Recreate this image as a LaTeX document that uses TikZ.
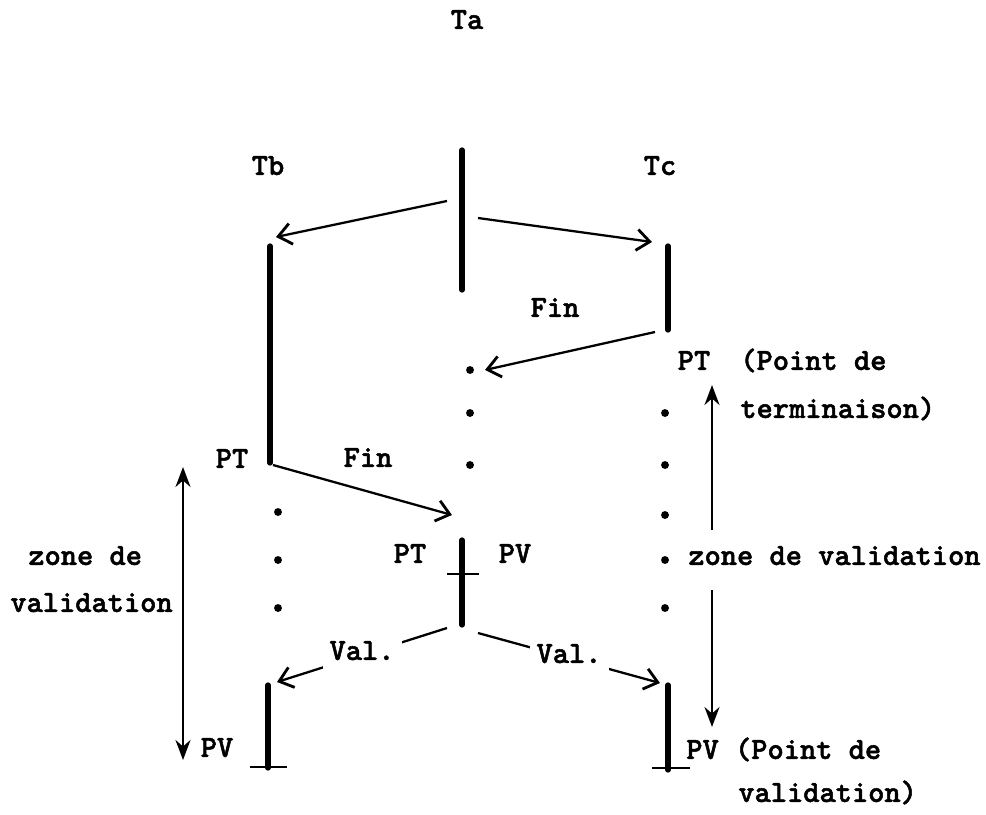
\documentclass[tikz,border=0pt]{standalone}
\usepackage{fontspec}
\newfontfamily\twfont{lmmonolt10-bold.otf}[FakeBold=1.6]
\usetikzlibrary{arrows.meta}
\begin{document}
\begin{tikzpicture}[x=0.02cm,y=-0.02cm,
  lbl/.style={font=\twfont\fontsize{17.6}{20}\selectfont, inner sep=0pt, text height=1.6ex, text depth=0.3ex},
  bar/.style={line width=3pt, line cap=round},
  tick/.style={line width=1pt},
  conn/.style={line width=1.3pt, -{Straight Barb[length=2.6mm,width=4.2mm,line width=1.6pt]}},
  zone/.style={line width=1.3pt, -{Stealth[length=4mm,width=3mm]}},
  dot/.style={circle, fill, inner sep=0pt, minimum size=4.5pt}]
\useasboundingbox (0,0) rectangle (986,814);
% bars
\coordinate (aT) at (462,150); \coordinate (aB) at (462,290);
\coordinate (bT) at (270,246); \coordinate (bB) at (270,463);
\coordinate (cT) at (668,246); \coordinate (cB) at (668,330);
\coordinate (mT) at (462,540); \coordinate (mB) at (462,625);
\coordinate (lT) at (268,685); \coordinate (lB) at (268,768);
\coordinate (rT) at (668,685); \coordinate (rB) at (668,770);
\draw[bar] (aT) -- (aB);
\draw[bar] (bT) -- (bB);
\draw[bar] (cT) -- (cB);
\draw[bar] (mT) -- (mB);
\draw[bar] (lT) -- (lB);
\draw[bar] (rT) -- (rB);
% crossbars
\coordinate (mx1) at (447,574); \coordinate (mx2) at (479,574);
\coordinate (lx1) at (250,767); \coordinate (lx2) at (287,767);
\coordinate (rx1) at (652,768); \coordinate (rx2) at (690,768);
\draw[tick] (mx1) -- (mx2);
\draw[tick] (lx1) -- (lx2);
\draw[tick] (rx1) -- (rx2);
% connector ends
\coordinate (a1) at (447,201); \coordinate (b1) at (276,237);
\coordinate (a2) at (478,218); \coordinate (c1) at (652,242);
\coordinate (c2) at (655,332); \coordinate (f1) at (485,370);
\coordinate (b2) at (273,465); \coordinate (m1) at (452,515);
\coordinate (m2) at (447,628); \coordinate (l1) at (277,682);
\coordinate (m3) at (478,633); \coordinate (r1) at (660,683);
\draw[conn] (a1) -- (b1);
\draw[conn] (a2) -- (c1);
\draw[conn] (c2) -- (f1);
\draw[conn] (b2) -- (m1);
\draw[conn] (m2) -- node[lbl, fill=white, inner sep=4pt]{Val.} (l1);
\draw[conn] (m3) -- node[lbl, fill=white, inner sep=4pt]{Val.} (r1);
% zone arrows
\coordinate (z1) at (183,467); \coordinate (z2) at (183,760);
\draw[zone, {Stealth[length=4mm,width=3mm]}-{Stealth[length=4mm,width=3mm]}] (z1) -- (z2);
\coordinate (z3) at (712,530); \coordinate (z4) at (712,385);
\coordinate (z5) at (712,590); \coordinate (z6) at (712,727);
\draw[zone] (z3) -- (z4);
\draw[zone] (z5) -- (z6);
% dots
\foreach \y [count=\i] in {370,413,465} \node[dot] (md\i) at (470,\y) {};
\foreach \y [count=\i] in {512,560,608} \node[dot] (ld\i) at (278,\y) {};
\foreach \y [count=\i] in {413,465,515,560,608} \node[dot] (rd\i) at (665,\y) {};
% labels
\node[lbl] (ta) at (467,24) {Ta};
\node[lbl] (tb) at (268,170) {Tb};
\node[lbl] (tc) at (660,170) {Tc};
\node[lbl] (fin1) at (555,312) {Fin};
\node[lbl] (fin2) at (368,462) {Fin};
\node[lbl] (ptl) at (232,463) {PT};
\node[lbl] (ptm) at (410,558) {PT};
\node[lbl] (pvm) at (515,558) {PV};
\node[lbl] (ptr) at (694,365) {PT};
\node[lbl, anchor=west] (pt1) at (740,365) {(Point de};
\node[lbl, anchor=west] (pt2) at (740,413) {terminaison)};
\node[lbl, anchor=west] (zr) at (688,560) {zone de validation};
\node[lbl] (pvl) at (217,752) {PV};
\node[lbl, anchor=west] (pvr) at (686,754) {PV (Point de};
\node[lbl, anchor=west] (pv2) at (738,797) {validation)};
\node[lbl, anchor=west] (zl1) at (28,560) {zone de};
\node[lbl, anchor=west] (zl2) at (10,607) {validation};
\end{tikzpicture}
\end{document}
